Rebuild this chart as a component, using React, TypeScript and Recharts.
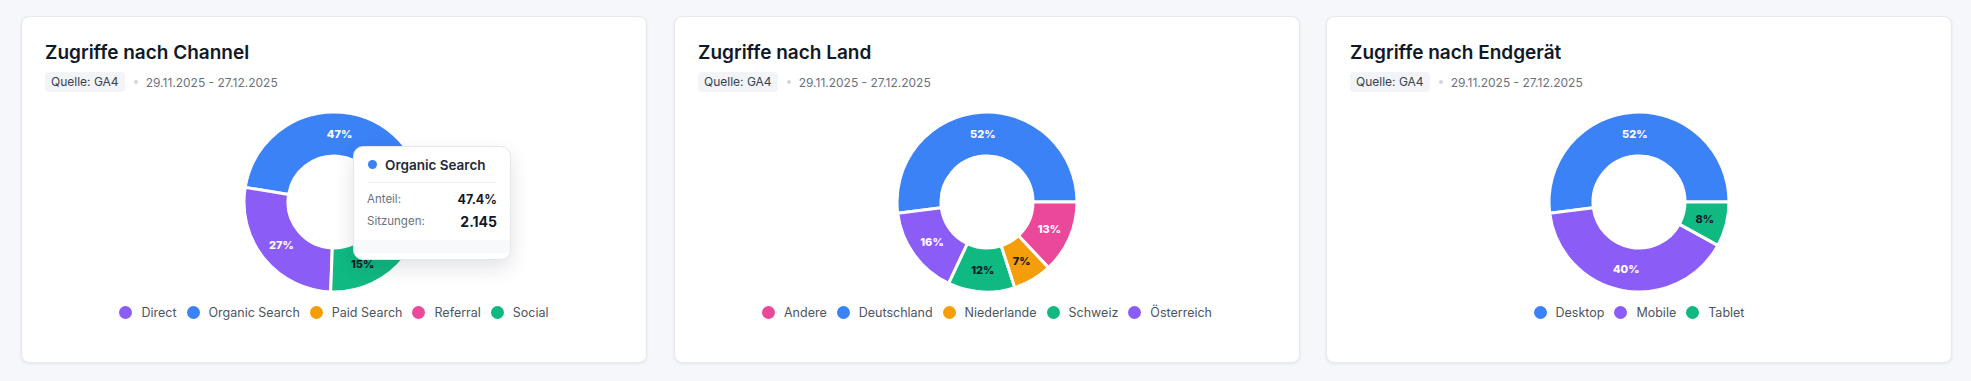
import React from 'react';
import { PieChart, Pie, Cell, Tooltip } from 'recharts';

// Channel (Sitzungen)
const channelNames = ['Organic Search', 'Direct', 'Social', 'Referral', 'Paid Search'];
const channelSessions = [2145, 1222, 679, 280, 199];
const channelColors = ['#3b82f6', '#8b5cf6', '#10b981', '#ec4899', '#f59e0b'];
const channelLegend = ['Direct', 'Organic Search', 'Paid Search', 'Referral', 'Social'];

// Land (Anteil in %)
const countryNames = ['Deutschland', 'Österreich', 'Schweiz', 'Niederlande', 'Andere'];
const countryShares = [52, 16, 12, 7, 13];
const countryColors = ['#3b82f6', '#8b5cf6', '#10b981', '#f59e0b', '#ec4899'];
const countryLegend = ['Andere', 'Deutschland', 'Niederlande', 'Schweiz', 'Österreich'];

// Endgerät (Anteil in %)
const deviceNames = ['Desktop', 'Mobile', 'Tablet'];
const deviceShares = [52, 40, 8];
const deviceColors = ['#3b82f6', '#8b5cf6', '#10b981'];
const deviceLegend = ['Desktop', 'Mobile', 'Tablet'];

const source = 'Quelle: GA4';
const dateRange = '29.11.2025 - 27.12.2025';

const FONT = 'Inter, "Noto Sans", sans-serif';
const DARK_LABEL = ['#10b981', '#f59e0b'];
const RADIAN = Math.PI / 180;

type Slice = { name: string; value: number; color: string };

function build(names: string[], values: number[], colors: string[]): Slice[] {
  return names.map((n, i) => ({ name: n, value: values[i], color: colors[i] }));
}

function renderLabel(props: any) {
  const { cx, cy, midAngle, innerRadius, outerRadius, percent, index, payload } = props;
  // tiny slices get no label
  if (percent < 0.05) return null;
  const r = innerRadius + (outerRadius - innerRadius) / 2;
  const x = cx + r * Math.cos(-midAngle * RADIAN);
  const y = cy + r * Math.sin(-midAngle * RADIAN);
  const color = payload?.color ?? props.fill;
  return (
    <text
      key={`l-${index}`}
      x={x}
      y={y}
      textAnchor="middle"
      dominantBaseline="central"
      fontFamily={FONT}
      fontSize={11}
      fontWeight={800}
      fill={DARK_LABEL.includes(color) ? '#0f172a' : '#ffffff'}
    >
      {Math.round(percent * 100)}%
    </text>
  );
}

function ChannelTooltip({ active, payload, total }: any) {
  if (!active || !payload || !payload.length) return null;
  const p = payload[0].payload as Slice;
  return (
    <div style={{
      width: 158, background: '#fff', border: '1px solid #e5e7eb', borderRadius: 10,
      boxShadow: '0 8px 20px rgba(15,23,42,0.12)', fontFamily: FONT, boxSizing: 'border-box', overflow: 'hidden',
    }}>
      <div style={{ padding: '0 13px' }}>
        <div style={{ display: 'flex', alignItems: 'center', height: 35, borderBottom: '1px solid #eef0f3' }}>
          <span style={{ width: 9, height: 9, borderRadius: '50%', background: p.color, marginRight: 8, marginLeft: 1 }} />
          <span style={{ fontSize: 13.5, fontWeight: 600, color: '#1f2937' }}>{p.name}</span>
        </div>
        <div style={{ display: 'flex', justifyContent: 'space-between', alignItems: 'center', height: 22, marginTop: 5 }}>
          <span style={{ fontSize: 11.5, color: '#6b7280' }}>Anteil:</span>
          <span style={{ fontSize: 12.5, fontWeight: 700, color: '#111827' }}>{((p.value / total) * 100).toFixed(1)}%</span>
        </div>
        <div style={{ display: 'flex', justifyContent: 'space-between', alignItems: 'center', height: 22 }}>
          <span style={{ fontSize: 11.5, color: '#6b7280' }}>Sitzungen:</span>
          <span style={{ fontSize: 14, fontWeight: 700, color: '#111827' }}>{p.value.toLocaleString('de-DE')}</span>
        </div>
      </div>
      <div style={{ height: 13, background: '#f8f9fb', marginTop: 8 }} />
      <div style={{ height: 6 }} />
    </div>
  );
}

function Legend({ items, data }: { items: string[]; data: Slice[] }) {
  return (
    <div style={{ position: 'absolute', left: 0, right: 0, top: 286, display: 'flex', justifyContent: 'center', gap: 10 }}>
      {items.map(name => {
        const s = data.find(d => d.name === name)!;
        return (
          <div key={name} style={{ display: 'flex', alignItems: 'center', height: 18 }}>
            <span style={{ width: 13, height: 13, borderRadius: '50%', background: s.color, marginRight: 9 }} />
            <span style={{ fontFamily: FONT, fontSize: 12.5, color: '#4b5563' }}>{name}</span>
          </div>
        );
      })}
    </div>
  );
}

function DonutCard({ title, data, legend, left, tooltip }: {
  title: string; data: Slice[]; legend: string[]; left: number; tooltip?: boolean;
}) {
  const total = data.reduce((a, d) => a + d.value, 0);
  return (
    <div style={{
      position: 'absolute', left, top: 16, width: 626, height: 347, background: '#fff',
      border: '1px solid #e6e8ee', borderRadius: 8, boxShadow: '0 1px 3px rgba(15,23,42,0.08)', boxSizing: 'border-box',
    }}>
      <div style={{ position: 'absolute', left: 23, top: 22, fontFamily: FONT, fontSize: 19, fontWeight: 600, color: '#111827', lineHeight: '28px' }}>
        {title}
      </div>
      <div style={{ position: 'absolute', left: 23, top: 55, display: 'flex', alignItems: 'center' }}>
        <span style={{ background: '#f2f4f7', borderRadius: 4, height: 20, lineHeight: '20px', padding: '0 6px', fontFamily: FONT, fontSize: 12, color: '#374151' }}>
          {source}
        </span>
        <span style={{ width: 4, height: 4, borderRadius: '50%', background: '#d1d5db', margin: '0 8px 0 9px' }} />
        <span style={{ fontFamily: FONT, fontSize: 12, color: '#6b7280' }}>{dateRange}</span>
      </div>
      <div style={{ position: 'absolute', left: 0, top: 90 }}>
        <PieChart width={624} height={190}>
          <Pie
            data={data}
            dataKey="value"
            nameKey="name"
            cx="50%"
            cy="50%"
            innerRadius={46}
            outerRadius={90}
            startAngle={0}
            endAngle={360}
            stroke="#ffffff"
            strokeWidth={3}
            labelLine={false}
            label={renderLabel}
            isAnimationActive={false}
          >
            {data.map((d, i) => <Cell key={`c-${i}`} fill={d.color} />)}
          </Pie>
          {tooltip && (
            <Tooltip
              defaultIndex={0}
              active={true}
              position={{ x: 331, y: 39 }}
              isAnimationActive={false}
              wrapperStyle={{ outline: 'none' }}
              content={(props: any) => <ChannelTooltip {...props} total={total} />}
            />
          )}
        </PieChart>
      </div>
      <Legend items={legend} data={data} />
    </div>
  );
}

export default function App() {
  const channelData = build(channelNames, channelSessions, channelColors);
  const countryData = build(countryNames, countryShares, countryColors);
  const deviceData = build(deviceNames, deviceShares, deviceColors);
  return (
    <div style={{ position: 'fixed', inset: 0, width: 1971, height: 381, background: '#f6f7fb', overflow: 'hidden' }}>
      <DonutCard title="Zugriffe nach Channel" data={channelData} legend={channelLegend} left={21} tooltip />
      <DonutCard title="Zugriffe nach Land" data={countryData} legend={countryLegend} left={674} />
      <DonutCard title="Zugriffe nach Endgerät" data={deviceData} legend={deviceLegend} left={1326} />
    </div>
  );
}
